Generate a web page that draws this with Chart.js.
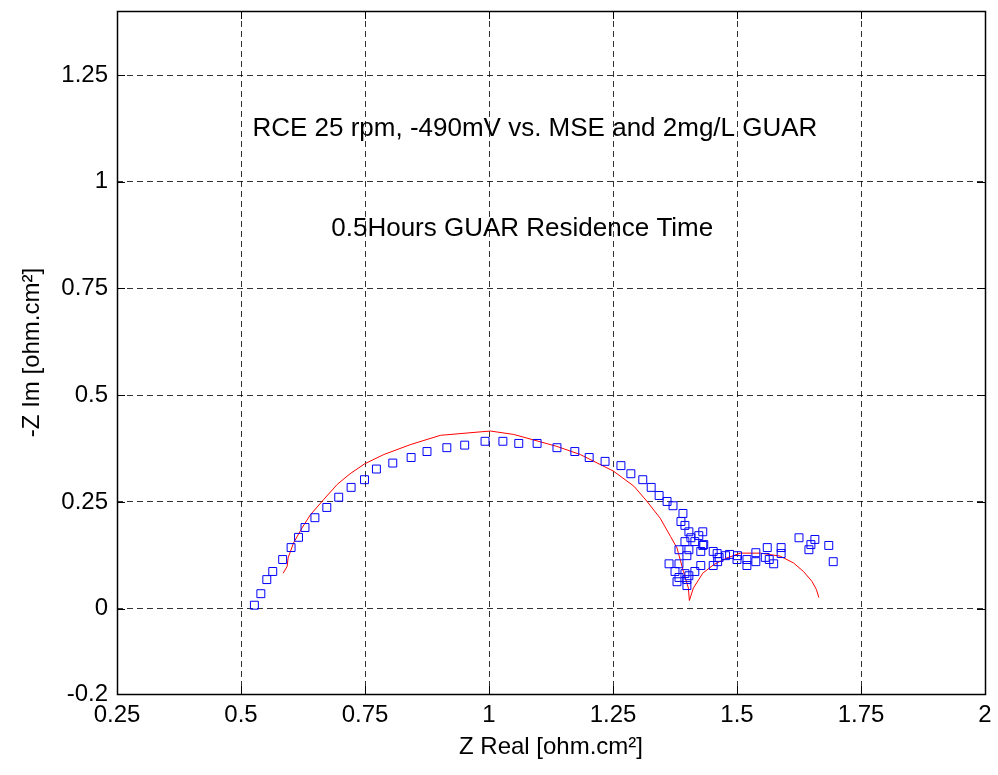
<!DOCTYPE html>
<html>
<head>
<meta charset="utf-8">
<script src="https://cdn.jsdelivr.net/npm/chart.js@4.4.1/dist/chart.umd.min.js"></script>
<style>
  html, body { margin: 0; padding: 0; background: #fff; }
  #wrap { width: 998px; height: 775px; }
</style>
</head>
<body>
<div id="wrap"><canvas id="chart"></canvas></div>
<script>
// measured impedance (blue squares)
const measReal = [
  0.527, 0.540, 0.552, 0.564, 0.584, 0.601, 0.616, 0.629, 0.649, 0.673,
  0.697, 0.722, 0.749, 0.773, 0.806, 0.843, 0.875, 0.915, 0.951, 0.992,
  1.028, 1.060, 1.097, 1.137, 1.173, 1.202, 1.234, 1.266, 1.286, 1.310,
  1.327, 1.343, 1.359, 1.371, 1.391, 1.387, 1.395, 1.403, 1.431, 1.407,
  1.423, 1.395, 1.415, 1.431, 1.383, 1.403, 1.427, 1.452, 1.460, 1.399,
  1.464, 1.477, 1.500, 1.363, 1.383, 1.427, 1.452, 1.375, 1.395, 1.415,
  1.403, 1.383, 1.399, 1.379, 1.399, 1.433, 1.461, 1.485, 1.501, 1.520,
  1.520, 1.538, 1.538, 1.561, 1.557, 1.565, 1.574, 1.589, 1.589, 1.625,
  1.657, 1.649, 1.645, 1.685, 1.694
]
const measImag = [
  0.008, 0.035, 0.068, 0.087, 0.115, 0.143, 0.167, 0.190, 0.213, 0.237,
  0.261, 0.284, 0.302, 0.327, 0.341, 0.354, 0.368, 0.377, 0.383, 0.392,
  0.392, 0.387, 0.387, 0.377, 0.368, 0.354, 0.345, 0.335, 0.316, 0.302,
  0.284, 0.265, 0.251, 0.241, 0.223, 0.204, 0.195, 0.180, 0.180, 0.166,
  0.171, 0.157, 0.157, 0.148, 0.138, 0.138, 0.134, 0.134, 0.129, 0.124,
  0.120, 0.124, 0.115, 0.105, 0.105, 0.101, 0.101, 0.087, 0.082, 0.087,
  0.077, 0.073, 0.068, 0.063, 0.054, 0.150, 0.110, 0.127, 0.124, 0.115,
  0.101, 0.131, 0.110, 0.143, 0.120, 0.115, 0.105, 0.143, 0.129, 0.166,
  0.162, 0.150, 0.138, 0.148, 0.110
]

// fitted curve (red line)
const fitReal = [
  0.585, 0.593, 0.595, 0.606, 0.623, 0.640, 0.667, 0.694, 0.720, 0.749,
  0.788, 0.841, 0.902, 0.982, 1.003, 1.050, 1.137, 1.184, 1.251, 1.292,
  1.318, 1.345, 1.366, 1.379, 1.392, 1.402, 1.404, 1.412, 1.431, 1.453,
  1.480, 1.507, 1.547, 1.587, 1.614, 1.634, 1.651, 1.660, 1.665
]
const fitImag = [
  0.083, 0.099, 0.119, 0.154, 0.189, 0.220, 0.256, 0.291, 0.316, 0.339,
  0.361, 0.384, 0.406, 0.414, 0.416, 0.408, 0.380, 0.361, 0.322, 0.287,
  0.252, 0.212, 0.169, 0.142, 0.087, 0.048, 0.019, 0.048, 0.083, 0.103,
  0.119, 0.130, 0.130, 0.123, 0.107, 0.087, 0.064, 0.045, 0.026
]

const yTicks = [-0.2, 0, 0.25, 0.5, 0.75, 1, 1.25]

const notes = [
  { x: 0.523, y: 1.124, text: 'RCE 25 rpm, -490mV vs. MSE and 2mg/L GUAR' },
  { x: 0.682, y: 0.889, text: '0.5Hours GUAR Residence Time' }
]

const FONT = "'Liberation Sans', Arial, sans-serif"
Chart.defaults.font.family = FONT
Chart.defaults.color = '#000'

const toPoints = (xs, ys) => xs.map((x, i) => ({ x, y: ys[i] }))

const fmt = v => String(Math.round(v * 100) / 100)

// frame, inner tick marks and text annotations, MATLAB style
const axesDecor = {
  id: 'axesDecor',
  afterDatasetsDraw(chart) {
    const { ctx, chartArea: a, scales } = chart
    ctx.save()
    ctx.strokeStyle = '#000'
    ctx.lineWidth = 1
    ctx.setLineDash([])
    ctx.beginPath()
    scales.x.ticks.forEach(t => {
      const px = Math.round(scales.x.getPixelForValue(t.value)) + 0.5
      ctx.moveTo(px, a.bottom); ctx.lineTo(px, a.bottom - 8)
      ctx.moveTo(px, a.top); ctx.lineTo(px, a.top + 8)
    })
    scales.y.ticks.forEach(t => {
      const py = Math.round(scales.y.getPixelForValue(t.value)) + 0.5
      ctx.moveTo(a.left, py); ctx.lineTo(a.left + 8, py)
      ctx.moveTo(a.right, py); ctx.lineTo(a.right - 8, py)
    })
    ctx.stroke()
    ctx.lineWidth = 1.5
    ctx.strokeRect(Math.round(a.left) + 0.5, Math.round(a.top) + 0.5,
      Math.round(a.right - a.left), Math.round(a.bottom - a.top))

    ctx.fillStyle = '#000'
    ctx.font = '26px ' + FONT
    ctx.textAlign = 'left'
    ctx.textBaseline = 'middle'
    notes.forEach(n => {
      ctx.fillText(n.text, scales.x.getPixelForValue(n.x), scales.y.getPixelForValue(n.y))
    })
    ctx.restore()
  }
}

new Chart(document.getElementById('chart'), {
  type: 'scatter',
  data: {
    datasets: [
      {
        label: 'measured',
        data: toPoints(measReal, measImag),
        pointStyle: 'rect',
        pointRadius: 5.6,
        borderColor: '#0000ff',
        backgroundColor: 'rgba(0,0,0,0)',
        borderWidth: 1
      },
      {
        label: 'fit',
        data: toPoints(fitReal, fitImag),
        showLine: true,
        pointRadius: 0,
        borderColor: '#ff0000',
        borderWidth: 1,
        fill: false,
        tension: 0
      }
    ]
  },
  plugins: [axesDecor],
  options: {
    responsive: true,
    maintainAspectRatio: false,
    animation: false,
    layout: { padding: { top: 11, right: 13, left: 0, bottom: 0 } },
    plugins: {
      legend: { display: false },
      tooltip: { enabled: false }
    },
    scales: {
      x: {
        type: 'linear',
        min: 0.25,
        max: 2,
        afterFit: s => { s.height = 81; s.paddingLeft = 0; s.paddingRight = 0 },
        ticks: { stepSize: 0.25, padding: 7, font: { size: 24 }, callback: fmt },
        grid: { color: 'rgba(0,0,0,0.8)', lineWidth: 1, drawTicks: false },
        border: { display: false, dash: [6, 4] },
        title: { display: true, text: 'Z Real [ohm.cm²]', font: { size: 24 }, padding: { top: 0, bottom: 13 } }
      },
      y: {
        type: 'linear',
        min: -0.2,
        max: 1.4,
        afterFit: s => { s.width = 117; s.paddingTop = 0; s.paddingBottom = 0 },
        afterBuildTicks: s => { s.ticks = yTicks.map(v => ({ value: v })) },
        ticks: { padding: 9, font: { size: 24 }, callback: fmt },
        grid: { color: 'rgba(0,0,0,0.8)', lineWidth: 1, drawTicks: false },
        border: { display: false, dash: [6, 4] },
        title: { display: true, text: '-Z Im [ohm.cm²]', font: { size: 24 }, padding: { top: 18, bottom: 0 } }
      }
    }
  }
})
</script>
</body>
</html>
